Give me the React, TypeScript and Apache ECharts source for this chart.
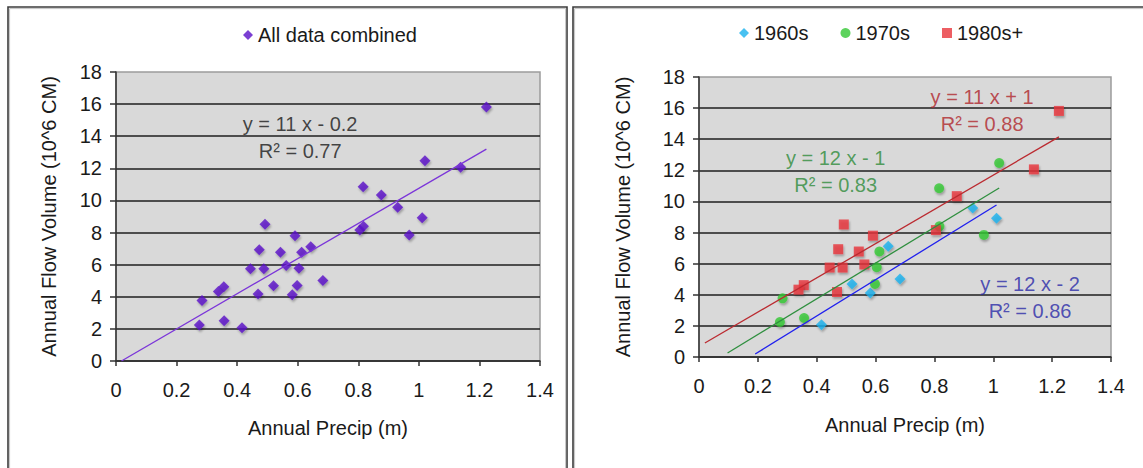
import React, { useEffect, useRef } from 'react';
import * as echarts from 'echarts';

const FONT = '"Liberation Sans", Arial, Helvetica, sans-serif';
const TEXT = '#1a1a1a';

// [annual precip (m), annual flow volume (10^6 CM)]
const flow1960s: [number, number][] = [
  [0.930, 9.58], [1.011, 8.92], [0.643, 7.12], [0.683, 5.01],
  [0.520, 4.69], [0.582, 4.12], [0.416, 2.07],
];
const flow1970s: [number, number][] = [
  [1.020, 12.47], [0.816, 10.85], [0.817, 8.40], [0.968, 7.85], [0.613, 6.78],
  [0.604, 5.77], [0.598, 4.70], [0.284, 3.77], [0.275, 2.25], [0.357, 2.51],
];
const flow1980s: [number, number][] = [
  [1.223, 15.82], [1.138, 12.06], [0.876, 10.34], [0.805, 8.16], [0.492, 8.52],
  [0.591, 7.80], [0.473, 6.93], [0.543, 6.78], [0.444, 5.75], [0.488, 5.75],
  [0.562, 5.95], [0.356, 4.62], [0.338, 4.33], [0.469, 4.18],
];
const allDataCombined: [number, number][] = [...flow1960s, ...flow1970s, ...flow1980s];

// trendline end points as drawn in the picture
const trendAll: [number, number][] = [[0.018, 0], [1.223, 13.2]];
const trend1960s: [number, number][] = [[0.191, 0.19], [1.011, 9.77]];
const trend1970s: [number, number][] = [[0.097, 0.26], [1.02, 10.86]];
const trend1980s: [number, number][] = [[0.02, 0.9], [1.223, 14.15]];

// trendline equation labels: anchor in data space + text
const eqAll = { at: [0.608, 13.94], text: 'y = 11 x - 0.2\nR² = 0.77' };
const eq1960s = { at: [1.125, 3.81], text: 'y = 12 x - 2\nR² = 0.86' };
const eq1970s = { at: [0.4645, 11.9], text: 'y = 12 x - 1\nR² = 0.83' };
const eq1980s = { at: [0.962, 15.83], text: 'y = 11 x + 1\nR² = 0.88' };

const X_TICK = { min: 0, max: 1.4, interval: 0.2 };
const Y_TICK = { min: 0, max: 18, interval: 2 };

const shadow = {
  shadowBlur: 2,
  shadowColor: 'rgba(0,0,0,0.35)',
  shadowOffsetX: 1,
  shadowOffsetY: 2,
};

function xAxis(gridIndex: number, nameGap: number) {
  return {
    type: 'value',
    gridIndex,
    ...X_TICK,
    name: 'Annual Precip (m)',
    nameLocation: 'middle',
    nameGap,
    nameTextStyle: { fontSize: 20, color: TEXT, fontFamily: FONT },
    axisLine: { show: true, onZero: false, lineStyle: { color: '#333', width: 1.5 } },
    axisTick: { show: true, length: 5, lineStyle: { color: '#333', width: 1.5 } },
    axisLabel: { fontSize: 20, color: TEXT, margin: 19, fontFamily: FONT },
    splitLine: { show: false },
  };
}

function yAxis(gridIndex: number, nameGap: number) {
  return {
    type: 'value',
    gridIndex,
    ...Y_TICK,
    name: 'Annual Flow Volume (10^6 CM)',
    nameLocation: 'middle',
    nameRotate: 90,
    nameGap,
    nameTextStyle: { fontSize: 20, color: TEXT, fontFamily: FONT },
    axisLine: { show: true, onZero: false, lineStyle: { color: '#333', width: 1.5 } },
    axisTick: { show: true, length: 6, lineStyle: { color: '#333', width: 1.5 } },
    axisLabel: { fontSize: 20, color: TEXT, margin: 14, fontFamily: FONT },
    splitLine: { show: true, showMaxLine: false, lineStyle: { color: '#1e1e1e', width: 1.5 } },
  };
}

function trend(name: string, idx: number, data: [number, number][], color: string) {
  return {
    type: 'line',
    name,
    xAxisIndex: idx,
    yAxisIndex: idx,
    data,
    symbol: 'none',
    silent: true,
    z: 4,
    lineStyle: { color, width: 1.3 },
  };
}

function eqLabel(name: string, idx: number, eq: { at: number[]; text: string }, color: string) {
  return {
    type: 'scatter',
    name,
    xAxisIndex: idx,
    yAxisIndex: idx,
    data: [eq.at],
    symbolSize: 0,
    silent: true,
    z: 5,
    label: {
      show: true,
      position: 'inside',
      formatter: eq.text,
      color,
      fontSize: 20,
      lineHeight: 27,
      align: 'center',
      fontFamily: FONT,
    },
  };
}

export default function App() {
  const ref = useRef<HTMLDivElement>(null);

  useEffect(() => {
    document.body.style.margin = '0';
    if (!ref.current) return;
    const chart = echarts.init(ref.current, undefined, { renderer: 'svg' });
    const option: any = {
      animation: false,
      backgroundColor: '#ffffff',
      textStyle: { fontFamily: FONT },
      graphic: [
        { type: 'rect', shape: { x: 8, y: 7, width: 559, height: 480 }, style: { fill: 'none', stroke: '#3c3c3c', lineWidth: 1.6 }, z: 0 },
        { type: 'rect', shape: { x: 9.6, y: 8.6, width: 556, height: 480 }, style: { fill: 'none', stroke: '#c4c4c4', lineWidth: 1 }, z: 0 },
        { type: 'rect', shape: { x: 573, y: 7, width: 600, height: 480 }, style: { fill: 'none', stroke: '#3c3c3c', lineWidth: 1.6 }, z: 0 },
        { type: 'rect', shape: { x: 574.6, y: 8.6, width: 600, height: 480 }, style: { fill: 'none', stroke: '#c4c4c4', lineWidth: 1 }, z: 0 },
      ],
      legend: [
        {
          data: ['All data combined'],
          left: 238,
          top: 20,
          itemWidth: 10,
          itemHeight: 10,
          textStyle: { fontSize: 20, color: TEXT, fontFamily: FONT },
        },
        {
          data: ['1960s', '1970s', '1980s+'],
          left: 734,
          top: 18,
          itemWidth: 10,
          itemHeight: 10,
          itemGap: 32,
          textStyle: { fontSize: 20, color: TEXT, fontFamily: FONT },
        },
      ],
      grid: [
        { left: 116, top: 72, width: 424, height: 289, show: true, backgroundColor: '#d9d9d9', borderColor: '#9c9c9c', borderWidth: 1.5 },
        { left: 699, top: 77, width: 412, height: 280, show: true, backgroundColor: '#d9d9d9', borderColor: '#9c9c9c', borderWidth: 1.5 },
      ],
      xAxis: [xAxis(0, 57), xAxis(1, 58)],
      yAxis: [yAxis(0, 57), yAxis(1, 66)],
      series: [
        {
          type: 'scatter',
          name: 'All data combined',
          xAxisIndex: 0,
          yAxisIndex: 0,
          data: allDataCombined,
          symbol: 'diamond',
          symbolSize: 11,
          itemStyle: { color: '#5a0fc8', ...shadow },
        },
        trend('_trendAll', 0, trendAll, '#7b35d9'),
        eqLabel('_eqAll', 0, eqAll, '#1a1a1a'),
        {
          type: 'scatter',
          name: '1960s',
          xAxisIndex: 1,
          yAxisIndex: 1,
          data: flow1960s,
          symbol: 'diamond',
          symbolSize: 11,
          itemStyle: { color: '#1ab2ee', ...shadow },
        },
        {
          type: 'scatter',
          name: '1970s',
          xAxisIndex: 1,
          yAxisIndex: 1,
          data: flow1970s,
          symbol: 'circle',
          symbolSize: 10,
          itemStyle: { color: '#35c835', ...shadow },
        },
        {
          type: 'scatter',
          name: '1980s+',
          xAxisIndex: 1,
          yAxisIndex: 1,
          data: flow1980s,
          symbol: 'rect',
          symbolSize: 10,
          itemStyle: { color: '#e8363c', ...shadow },
        },
        trend('_trend80', 1, trend1980s, '#bb2a30'),
        trend('_trend70', 1, trend1970s, '#2f8f3f'),
        trend('_trend60', 1, trend1960s, '#2020ee'),
        eqLabel('_eq80', 1, eq1980s, '#b0262c'),
        eqLabel('_eq70', 1, eq1970s, '#2e8b3a'),
        eqLabel('_eq60', 1, eq1960s, '#2a2aa8'),
      ],
    };
    chart.setOption(option);
    return () => chart.dispose();
  }, []);

  return <div ref={ref} style={{ width: 1143, height: 468 }} />;
}
